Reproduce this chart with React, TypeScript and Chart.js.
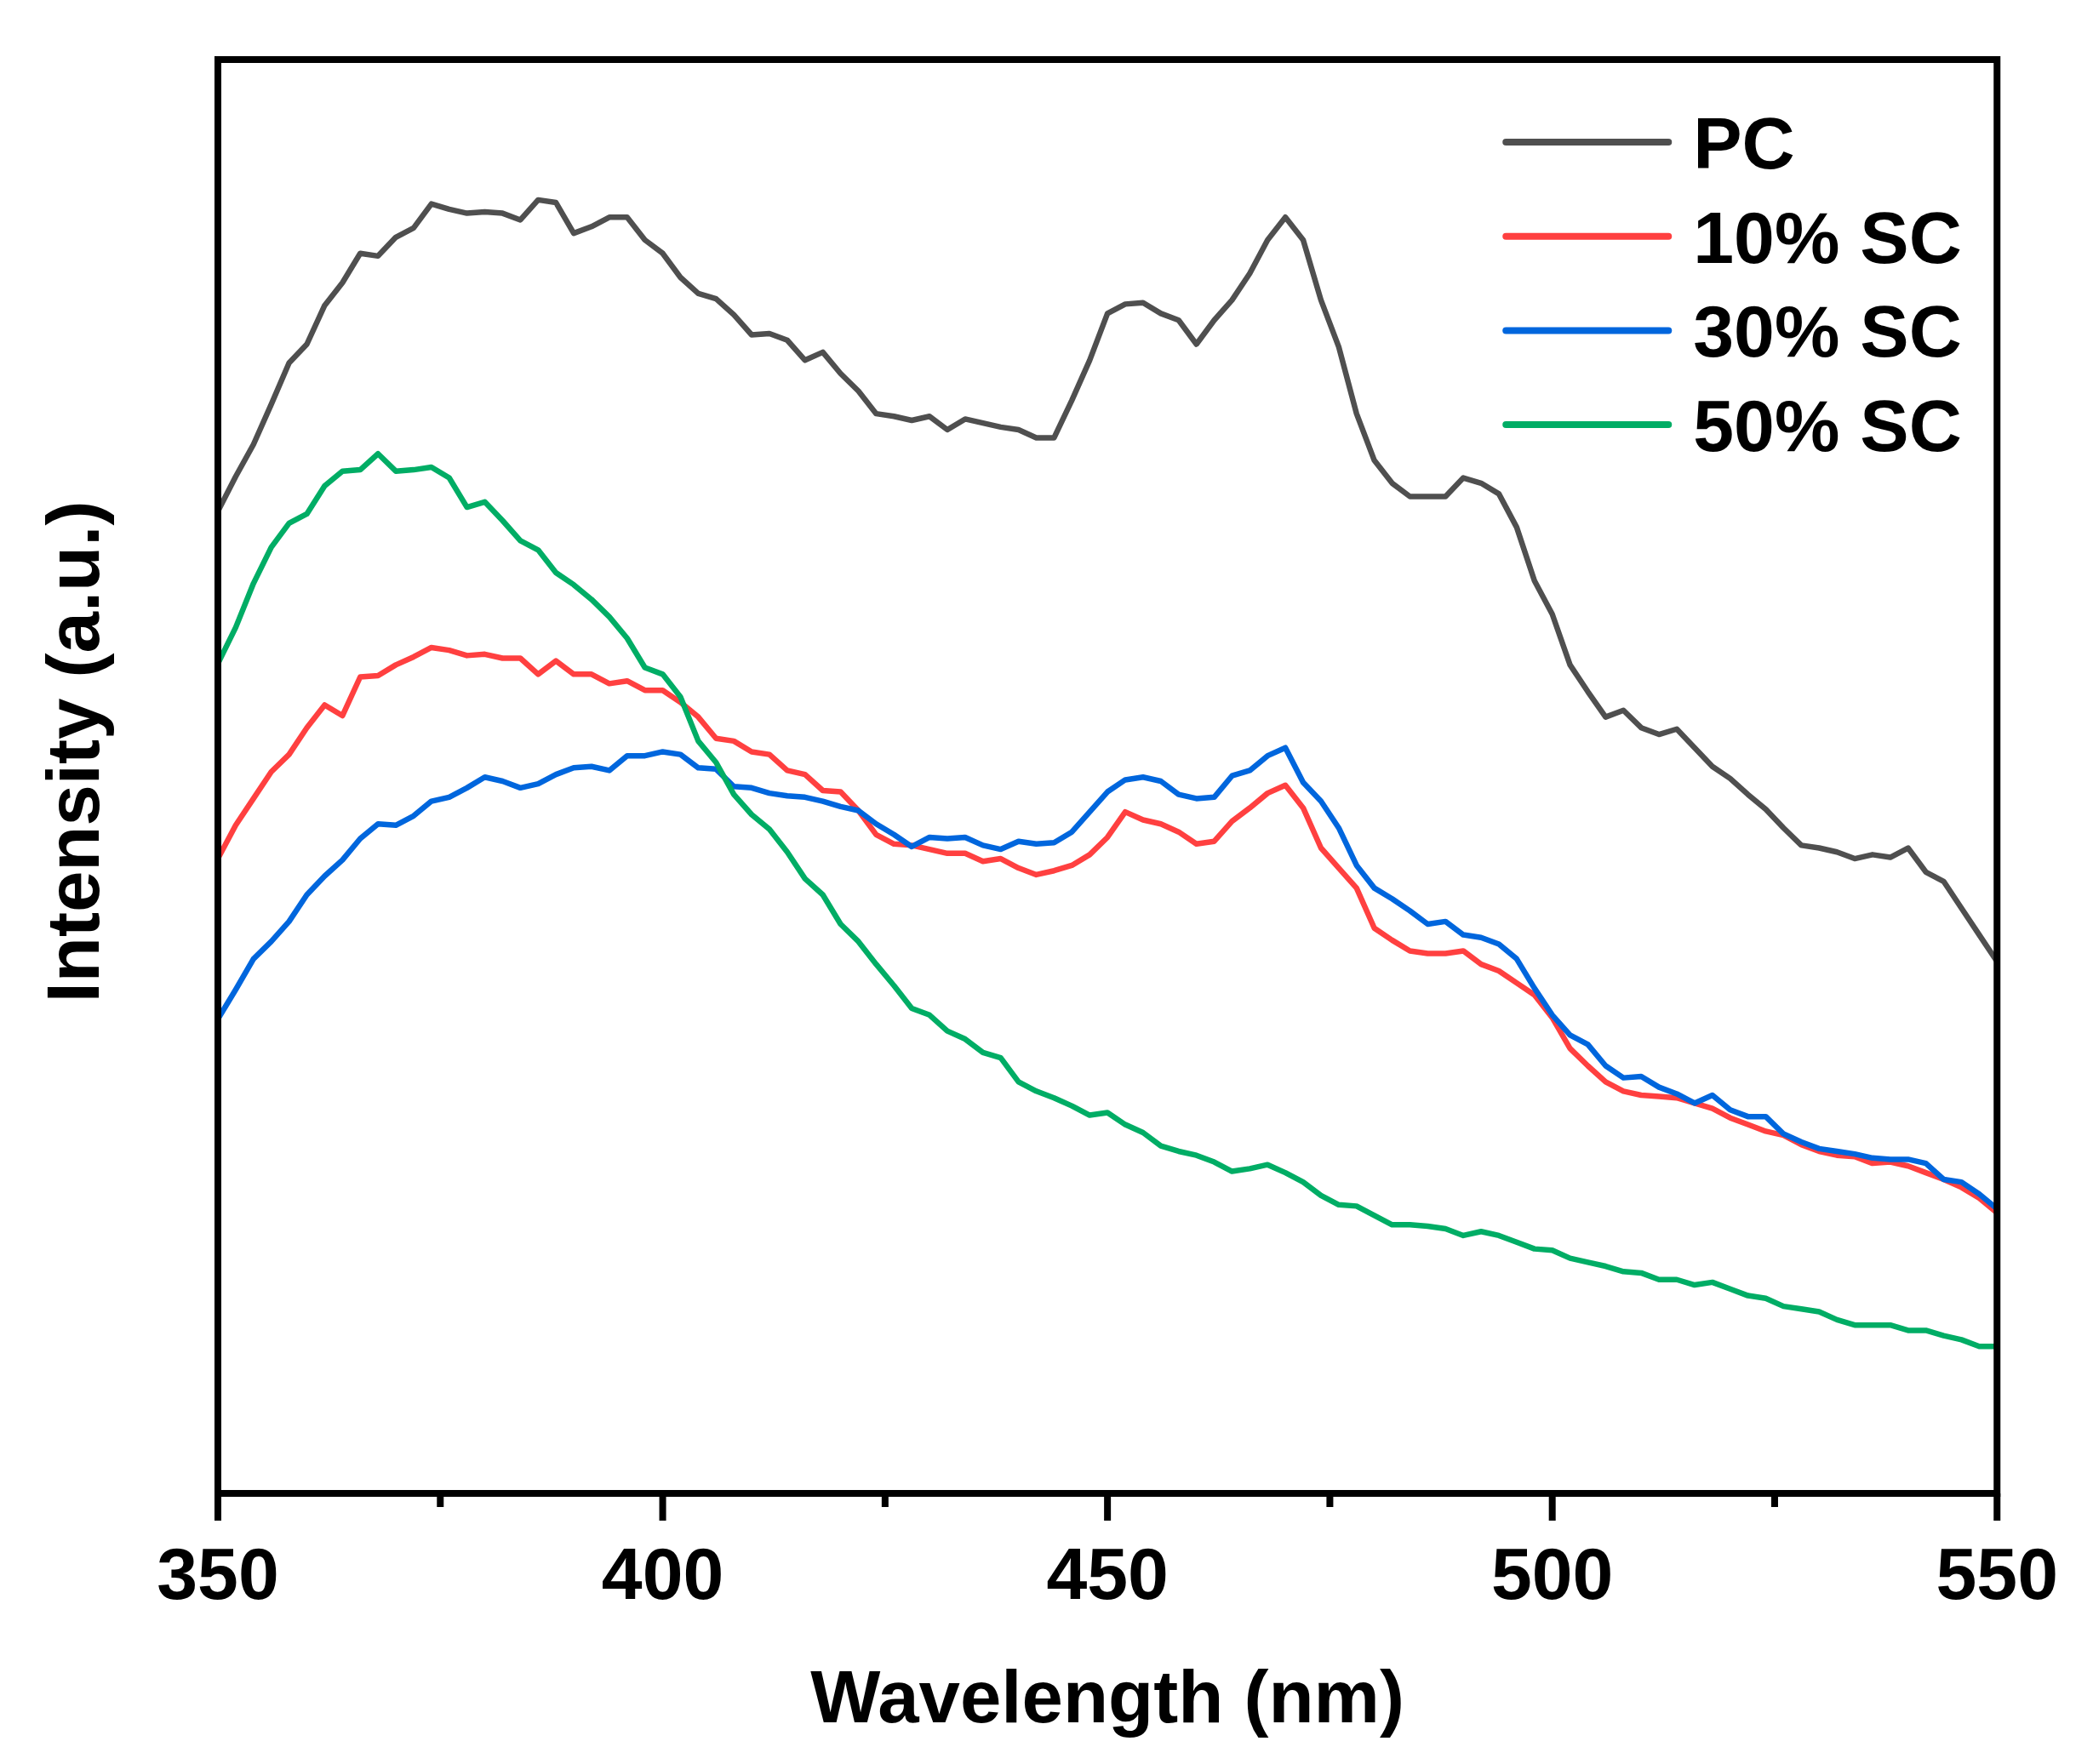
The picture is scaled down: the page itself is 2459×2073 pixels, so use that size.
import { useRef, useEffect } from "react";
import { Chart, registerables } from "chart.js";

Chart.register(...registerables);

// emission spectra, intensity in arbitrary units
const wavelength = [
  350, 352, 354, 356, 358, 360, 362, 364, 366, 368,
  370, 372, 374, 376, 378, 380, 382, 384, 386, 388,
  390, 392, 394, 396, 398, 400, 402, 404, 406, 408,
  410, 412, 414, 416, 418, 420, 422, 424, 426, 428,
  430, 432, 434, 436, 438, 440, 442, 444, 446, 448,
  450, 452, 454, 456, 458, 460, 462, 464, 466, 468,
  470, 472, 474, 476, 478, 480, 482, 484, 486, 488,
  490, 492, 494, 496, 498, 500, 502, 504, 506, 508,
  510, 512, 514, 516, 518, 520, 522, 524, 526, 528,
  530, 532, 534, 536, 538, 540, 542, 544, 546, 548,
  550,
];

const pc = [
  735, 761, 785, 815, 846, 860, 889, 906, 928, 926,
  940, 947, 965, 961, 958, 959, 958, 953, 968, 966,
  943, 948, 955, 955, 938, 928, 910, 898, 894, 882,
  867, 868, 863, 848, 854, 838, 825, 808, 806, 803,
  806, 796, 804, 801, 798, 796, 790, 790, 818, 848,
  883, 890, 891, 883, 878, 860, 878, 893, 913, 938,
  955, 938, 893, 858, 808, 773, 756, 746, 746, 746,
  760, 756, 748, 723, 683, 658, 620, 600, 581, 586,
  573, 568, 572, 558, 544, 535, 523, 512, 498, 485,
  483, 480, 475, 478, 476, 483, 465, 458, 438, 418,
  398,
];

const sc10 = [
  475, 500, 520, 540, 553, 573, 590, 582, 611, 612,
  620, 626, 633, 631, 627, 628, 625, 625, 613, 623,
  613, 613, 606, 608, 601, 601, 592, 581, 565, 563,
  555, 553, 541, 538, 526, 525, 511, 493, 486, 485,
  482, 479, 479, 473, 475, 468, 463, 466, 470, 478,
  491, 510, 504, 501, 495, 486, 488, 503, 513, 524,
  530, 513, 483, 468, 453, 423, 414, 406, 404, 404,
  406, 396, 391, 382, 373, 356, 333, 320, 308, 301,
  298, 297, 296, 292, 288, 281, 276, 271, 268, 261,
  256, 253, 252, 247, 248, 245, 240, 235, 229, 221,
  210,
];

const sc30 = [
  355, 377, 400, 413, 428, 448, 462, 474, 490, 501,
  500, 507, 518, 521, 528, 536, 533, 528, 531, 538,
  543, 544, 541, 552, 552, 555, 553, 543, 542, 529,
  528, 524, 522, 521, 518, 514, 511, 501, 493, 484,
  491, 490, 491, 485, 482, 488, 486, 487, 495, 510,
  525, 534, 536, 533, 523, 520, 521, 537, 541, 552,
  558, 532, 518, 498, 470, 453, 445, 436, 426, 428,
  418, 416, 411, 400, 378, 358, 343, 336, 320, 311,
  312, 304, 299, 292, 298, 287, 282, 282, 269, 263,
  258, 256, 254, 251, 250, 250, 247, 235, 233, 224,
  213,
];

const sc50 = [
  621, 648, 681, 708, 726, 733, 754, 765, 766, 778,
  765, 766, 768, 760, 738, 742, 728, 713, 706, 689,
  680, 669, 656, 640, 618, 613, 596, 563, 547, 523,
  508, 497, 480, 460, 448, 426, 413, 396, 380, 363,
  358, 346, 340, 330, 326, 308, 301, 296, 290, 283,
  285, 276, 270, 260, 256, 253, 248, 241, 243, 246,
  240, 233, 223, 216, 215, 208, 201, 201, 200, 198,
  193, 196, 193, 188, 183, 182, 176, 173, 170, 166,
  165, 160, 160, 156, 158, 153, 148, 146, 140, 138,
  136, 130, 126, 126, 126, 122, 122, 118, 115, 110,
  110,
];

const seriesNames = ["PC", "10% SC", "30% SC", "50% SC"];
const seriesColors = ["#4f4f4f", "#ff4040", "#0066dd", "#00ad65"];
const xMajorTicks = [350, 400, 450, 500, 550];
const xMinorTicks = [375, 425, 475, 525];
const yTitle = "Intensity (a.u.)";

const FONT = "'Liberation Sans', Arial, Helvetica, sans-serif";

const framePlugin = {
  id: "frame",
  afterDatasetsDraw(chart: any) {
    const { ctx, chartArea } = chart;
    const { left, right, top, bottom } = chartArea;
    const xScale = chart.scales.x;
    ctx.save();

    // box
    ctx.strokeStyle = "#000";
    ctx.lineWidth = 8;
    ctx.lineJoin = "miter";
    ctx.strokeRect(left, top, right - left, bottom - top);

    // ticks on the bottom axis
    ctx.fillStyle = "#000";
    xMajorTicks.forEach((v) => {
      const px = xScale.getPixelForValue(v);
      ctx.fillRect(px - 4, bottom, 8, 32);
    });
    xMinorTicks.forEach((v) => {
      const px = xScale.getPixelForValue(v);
      ctx.fillRect(px - 4, bottom, 8, 16);
    });

    // y axis title, sits a little above the middle of the box
    ctx.save();
    ctx.translate(left - 164, (top + bottom) / 2 - 29);
    ctx.rotate(-Math.PI / 2);
    ctx.font = `bold 87px ${FONT}`;
    ctx.textAlign = "center";
    ctx.textBaseline = "middle";
    ctx.fillStyle = "#000";
    ctx.fillText(yTitle, 0, 0);
    ctx.restore();

    // legend
    ctx.font = `bold 86px ${FONT}`;
    ctx.textAlign = "left";
    ctx.textBaseline = "alphabetic";
    ctx.lineCap = "round";
    chart.data.datasets.forEach((ds: any, i: number) => {
      const y = top + 97 + i * 110.7;
      ctx.strokeStyle = ds.borderColor;
      ctx.lineWidth = 8;
      ctx.beginPath();
      ctx.moveTo(right - 577, y);
      ctx.lineTo(right - 386, y);
      ctx.stroke();
      ctx.fillStyle = "#000";
      ctx.fillText(ds.label, right - 357, y + 31);
    });

    ctx.restore();
  },
};

export default function App() {
  const canvasRef = useRef<HTMLCanvasElement | null>(null);
  const chartRef = useRef<Chart | null>(null);

  useEffect(() => {
    if (!canvasRef.current) return;
    if (chartRef.current) chartRef.current.destroy();

    const all = [pc, sc10, sc30, sc50];

    chartRef.current = new Chart(canvasRef.current, {
      type: "line",
      data: {
        datasets: all.map((values, i) => ({
          label: seriesNames[i],
          data: wavelength.map((w, j) => ({ x: w, y: values[j] })),
          borderColor: seriesColors[i],
          backgroundColor: seriesColors[i],
          borderWidth: 6.5,
          borderJoinStyle: "round" as const,
          pointRadius: 0,
          tension: 0,
          fill: false,
          order: 4 - i,
        })),
      },
      options: {
        responsive: false,
        devicePixelRatio: 1,
        animation: false,
        layout: { padding: { top: 70, right: 109, bottom: 0, left: 0 } },
        plugins: {
          legend: { display: false },
          tooltip: { enabled: false },
        },
        scales: {
          x: {
            type: "linear",
            min: 350,
            max: 550,
            grid: { display: false },
            border: { display: false },
            afterBuildTicks: (scale: any) => {
              scale.ticks = xMajorTicks.map((v) => ({ value: v }));
            },
            afterFit: (scale: any) => {
              scale.height = 318;
            },
            ticks: {
              color: "#000",
              padding: 41,
              maxRotation: 0,
              font: { family: FONT, size: 86, weight: "bold" },
            },
            title: {
              display: true,
              text: "Wavelength (nm)",
              color: "#000",
              padding: { top: 0, bottom: 21 },
              font: { family: FONT, size: 87, weight: "bold" },
            },
          },
          y: {
            min: 0,
            max: 1073,
            grid: { display: false },
            border: { display: false },
            ticks: { display: false },
            afterFit: (scale: any) => {
              scale.width = 256;
            },
          },
        },
      },
      plugins: [framePlugin],
    });

    return () => {
      if (chartRef.current) {
        chartRef.current.destroy();
        chartRef.current = null;
      }
    };
  }, []);

  return (
    <div
      style={{
        position: "fixed",
        left: 0,
        top: 0,
        width: 2459,
        height: 2073,
        background: "#fff",
      }}
    >
      <canvas ref={canvasRef} width={2459} height={2073} style={{ width: 2459, height: 2073 }} />
    </div>
  );
}
